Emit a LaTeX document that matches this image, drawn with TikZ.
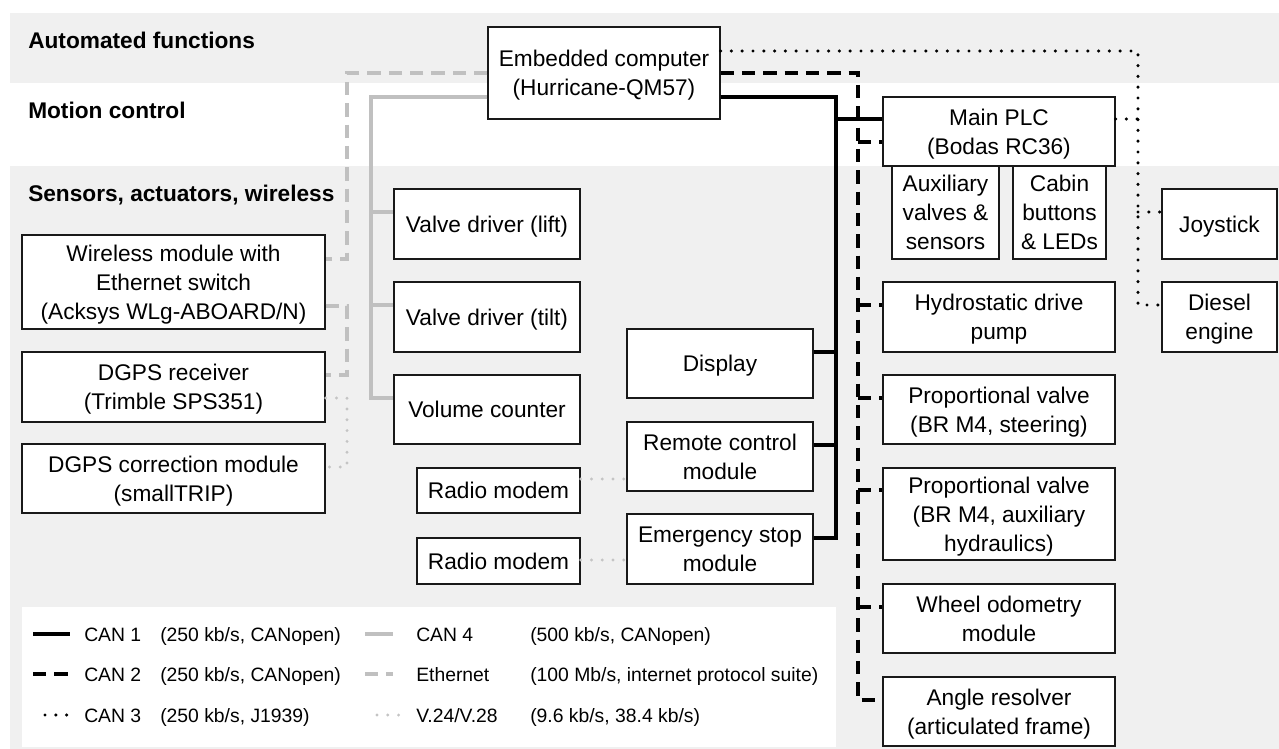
\documentclass[tikz,border=0pt]{standalone}
\usepackage{fontspec}
\setmainfont{Liberation Sans}
\usetikzlibrary{calc}

\definecolor{band}{RGB}{240,240,240}
\definecolor{busgrey}{RGB}{192,192,192}
\definecolor{serialgrey}{RGB}{196,196,196}
\definecolor{boxline}{RGB}{25,25,25}

\newcommand\boxfont{\fontsize{17pt}{21.6pt}\selectfont}
\newcommand\legfont{\fontsize{14.5pt}{17pt}\selectfont}

\tikzset{
  box/.style={draw=boxline, line width=0.9pt, fill=white, inner sep=0pt, align=center,
    text depth=0pt, font=\boxfont},
  canone/.style={draw=black, line width=3pt},
  cantwo/.style={draw=black, line width=3pt, dash pattern=on 10pt off 6pt},
  canthree/.style={draw=black, line width=2.6pt, line cap=round, dash pattern=on 0pt off 8.1pt},
  canfour/.style={draw=busgrey, line width=2.8pt},
  ethnet/.style={draw=busgrey, line width=2.8pt, dash pattern=on 10pt off 6pt},
  vser/.style={draw=serialgrey, line width=2.4pt, line cap=round, dash pattern=on 0pt off 8.1pt},
  lane/.style={font=\boxfont\bfseries, anchor=base west, inner sep=0pt},
  legtxt/.style={font=\legfont, anchor=base west, inner sep=0pt},
}

% box from corner (#2,#3) to corner (#4,#5), in pixel units
\newcommand\placebox[6]{%
  \node[box, minimum width={(#4-#2)*0.75pt}, minimum height={(#5-#3)*0.75pt}]
    (#1) at ({(#2+#4)/2},{(#3+#5)/2}) {#6};}

\begin{document}
\begin{tikzpicture}[x=0.75pt, y=-0.75pt]
\useasboundingbox (0,0) rectangle (1279,749);

% layer bands
\fill[band] (10,13) rectangle (1279,83);
\fill[band] (10,166) rectangle (1279,749);

\node[lane] (lauto)   at (28,49)  {Automated functions};
\node[lane] (lmotion) at (28,118) {Motion control};
\node[lane] (lsense)  at (28,201) {Sensors, actuators, wireless};

% units
\placebox{emb}{488}{27}{720}{119}{Embedded computer\\(Hurricane-QM57)}
\placebox{plc}{883}{97}{1115}{166}{Main PLC\\(Bodas RC36)}
\placebox{aux}{892}{166}{999}{259}{Auxiliary\\valves \&\\sensors}
\placebox{cab}{1013}{166}{1106}{259}{Cabin\\buttons\\\& LEDs}
\placebox{joy}{1162}{189}{1277}{259}{Joystick}
\placebox{dsl}{1162}{282}{1277}{352}{Diesel\\engine}
\placebox{hyd}{883}{282}{1115}{352}{Hydrostatic drive\\pump}
\placebox{pvs}{883}{375}{1115}{444}{Proportional valve\\(BR M4, steering)}
\placebox{pva}{883}{468}{1115}{560}{Proportional valve\\(BR M4, auxiliary\\hydraulics)}
\placebox{odo}{883}{584}{1115}{653}{Wheel odometry\\module}
\placebox{ang}{883}{677}{1115}{746}{Angle resolver\\(articulated frame)}

\placebox{wifi}{22}{235}{325}{329}{Wireless module with\\Ethernet switch\\(Acksys WLg-ABOARD/N)}
\placebox{gps}{22}{352}{325}{422}{DGPS receiver\\(Trimble SPS351)}
\placebox{corr}{22}{444}{325}{513}{DGPS correction module\\(smallTRIP)}

\placebox{vlift}{394}{189}{580}{259}{Valve driver (lift)}
\placebox{vtilt}{394}{282}{580}{352}{Valve driver (tilt)}
\placebox{vol}{394}{375}{580}{444}{Volume counter}

\placebox{disp}{627}{329}{813}{398}{Display}
\placebox{rem}{627}{422}{813}{491}{Remote control\\module}
\placebox{est}{627}{514}{813}{584}{Emergency stop\\module}
\placebox{rad1}{417}{468}{580}{513}{Radio modem}
\placebox{rad2}{417}{538}{580}{584}{Radio modem}

% bus trunks
\coordinate (c1top) at (836,97);
\coordinate (c1bot) at (836,538);
\coordinate (c2top) at (858,73);
\coordinate (c2bot) at (858,700);
\coordinate (c3top) at (1138,51);
\coordinate (c3bot) at (1138,305);
\coordinate (c4top) at (371,97);
\coordinate (c4bot) at (371,398);
\coordinate (e1top) at (347,73);
\coordinate (e1bot) at (347,259);
\coordinate (e2top) at (347,306);
\coordinate (e2bot) at (347,375);
\coordinate (s1top) at (347,398);
\coordinate (s1bot) at (347,467);

% CAN 1
\draw[canone] (emb.east |- c1top) -- (c1top) -- (c1bot) -- (est.east |- c1bot);
\draw[canone] (plc.west |- 0,119) -- (c1top |- 0,119);
\draw[canone] (disp.east |- 0,352) -- (c1top |- 0,352);
\draw[canone] (rem.east |- 0,445) -- (c1top |- 0,445);

% CAN 2
\draw[cantwo] (emb.east |- c2top) -- (c2top) -- (c2bot) -- (ang.west |- c2bot);
\draw[cantwo] (c2top |- 0,142) -- (plc.west |- 0,142);
\draw[cantwo] (c2top |- 0,305) -- (hyd.west |- 0,305);
\draw[cantwo] (c2top |- 0,398) -- (pvs.west |- 0,398);
\draw[cantwo] (c2top |- 0,490) -- (pva.west |- 0,490);
\draw[cantwo] (c2top |- 0,607) -- (odo.west |- 0,607);

% CAN 3
\draw[canthree] (emb.east |- c3top) -- (c3top) -- (c3bot) -- (dsl.west |- c3bot);
\draw[canthree] (plc.east |- 0,119) -- (c3top |- 0,119);
\draw[canthree] (c3top |- 0,212) -- (joy.west |- 0,212);

% CAN 4
\draw[canfour] (emb.west |- c4top) -- (c4top) -- (c4bot) -- (vol.west |- c4bot);
\draw[canfour] (c4top |- 0,212) -- (vlift.west |- 0,212);
\draw[canfour] (c4top |- 0,305) -- (vtilt.west |- 0,305);

% Ethernet
\draw[ethnet] (emb.west |- e1top) -- (e1top) -- (e1bot) -- (wifi.east |- e1bot);
\draw[ethnet] (wifi.east |- e2top) -- (e2top) -- (e2bot) -- (gps.east |- e2bot);

% serial links
\draw[vser] (gps.east |- s1top) -- (s1top) -- (s1bot) -- (corr.east |- s1bot);
\draw[vser] (rad1.east |- 0,479) -- (rem.west |- 0,479);
\draw[vser] (rad2.east |- 0,560) -- (est.west |- 0,560);

% legend
\node[fill=white, inner sep=0pt, minimum width={814*0.75pt}, minimum height={140*0.75pt}] (legend) at (429,677) {};
\draw[canone] (33,634) -- (70,634);
\draw[cantwo] (33,674) -- (70,674);
\draw[canthree] (45,715) -- (67,715);
\draw[canfour] (365,634) -- (393,634);
\draw[ethnet]  (365,674) -- (393,674);
\draw[vser] (377,715) -- (399,715);

\node[legtxt] (l1a) at (84,641)  {CAN 1};
\node[legtxt] (l1b) at (160,641) {(250 kb/s, CANopen)};
\node[legtxt] (l1c) at (416,641) {CAN 4};
\node[legtxt] (l1d) at (530,641) {(500 kb/s, CANopen)};
\node[legtxt] (l2a) at (84,681)  {CAN 2};
\node[legtxt] (l2b) at (160,681) {(250 kb/s, CANopen)};
\node[legtxt] (l2c) at (416,681) {Ethernet};
\node[legtxt] (l2d) at (530,681) {(100 Mb/s, internet protocol suite)};
\node[legtxt] (l3a) at (84,722)  {CAN 3};
\node[legtxt] (l3b) at (160,722) {(250 kb/s, J1939)};
\node[legtxt] (l3c) at (416,722) {V.24/V.28};
\node[legtxt] (l3d) at (530,722) {(9.6 kb/s, 38.4 kb/s)};
\end{tikzpicture}
\end{document}
